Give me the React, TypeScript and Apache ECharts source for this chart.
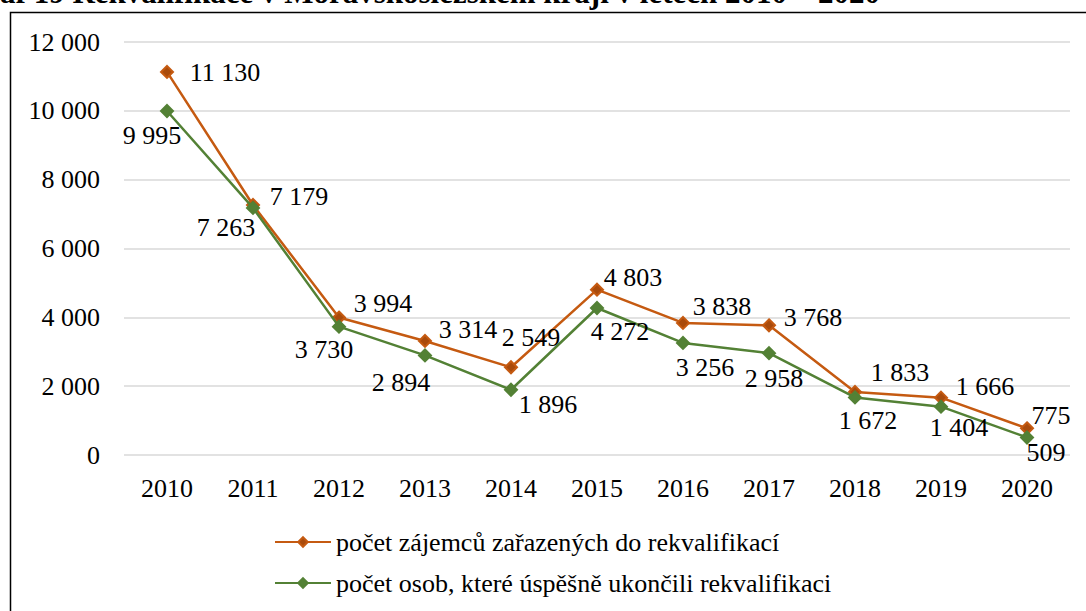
import React, { useEffect, useRef } from "react";
import * as echarts from "echarts";

const years = ["2010", "2011", "2012", "2013", "2014", "2015", "2016", "2017", "2018", "2019", "2020"];
const enrolled = [11130, 7263, 3994, 3314, 2549, 4803, 3838, 3768, 1833, 1666, 775];
const completed = [9995, 7179, 3730, 2894, 1896, 4272, 3256, 2958, 1672, 1404, 509];
const seriesNames = [
  "počet zájemců zařazených do rekvalifikací",
  "počet osob, které úspěšně ukončili rekvalifikaci",
];
const titleText = "Graf 19 Rekvalifikace v Moravskoslezském kraji v letech 2010 – 2020";

// label offsets (style only)
const enrolledLabelOffsets = [
  [58, 1], [-27, 22], [44, -14], [43, -11], [20, -30], [36, -12], [39, -16], [44, -8], [45, -19], [44, -11], [24, -13],
];
const completedLabelOffsets = [
  [-15, 24], [46, -11], [-15, 23], [-24, 27], [37, 15], [23, 24], [22, 25], [5, 25], [13, 23], [18, 21], [19, 15],
];

const ORANGE = "#C55A11";
const GREEN = "#538135";
const FONT = "Times New Roman, Liberation Serif, serif";

const fmt = (v: number) => String(v).replace(/\B(?=(\d{3})+(?!\d))/g, " ");

export default function App() {
  const ref = useRef<HTMLDivElement>(null);
  useEffect(() => {
    if (!ref.current) return;
    const chart = echarts.init(ref.current, null, { renderer: "svg" });
    const mk = (vals: number[], offs: number[][]) =>
      vals.map((v, i) => ({
        value: v,
        label: { offset: offs[i] },
      }));
    const txt = { fontFamily: FONT, fontSize: 26, color: "#000", fontWeight: "normal" };
    const lbl = {
      show: true,
      position: "inside",
      align: "center",
      verticalAlign: "middle",
      ...txt,
      formatter: (p: any) => fmt(p.value),
    };
    chart.setOption({
      animation: false,
      backgroundColor: "#ffffff",
      textStyle: { fontFamily: FONT },
      grid: { left: 124, right: 16, top: 42, bottom: 156 },
      legend: {
        orient: "vertical",
        left: 269,
        top: 524,
        itemWidth: 56,
        itemHeight: 12,
        itemGap: 15,
        textStyle: { ...txt },
        data: seriesNames,
      },
      xAxis: {
        type: "category",
        data: years,
        boundaryGap: true,
        axisLine: { show: false },
        axisTick: { show: false },
        axisLabel: { ...txt, margin: 20 },
      },
      yAxis: {
        type: "value",
        min: 0,
        max: 12000,
        interval: 2000,
        axisLine: { show: false },
        axisTick: { show: false },
        splitLine: { lineStyle: { color: "#D9D9D9", width: 1.5 } },
        axisLabel: { ...txt, margin: 24, formatter: (v: number) => fmt(v) },
      },
      graphic: [
        {
          type: "rect",
          shape: { x: 10.5, y: 12.5, width: 1200, height: 800 },
          style: { fill: "none", stroke: "#000", lineWidth: 1.5 },
          silent: true,
        },
        {
          type: "text",
          x: 880,
          y: 8,
          style: {
            text: titleText,
            fontFamily: FONT,
            fontWeight: "bold",
            fontSize: 31,
            fill: "#000",
            align: "right",
            verticalAlign: "bottom",
          },
          silent: true,
        },
      ],
      series: [
        {
          name: seriesNames[0],
          type: "line",
          data: mk(enrolled, enrolledLabelOffsets),
          symbol: "diamond",
          symbolSize: 12,
          lineStyle: { color: ORANGE, width: 2.5 },
          itemStyle: { color: "#A94B0C", borderColor: ORANGE, borderWidth: 2 },
          label: lbl,
          z: 3,
        },
        {
          name: seriesNames[1],
          type: "line",
          data: mk(completed, completedLabelOffsets),
          symbol: "diamond",
          symbolSize: 12,
          lineStyle: { color: GREEN, width: 2.5 },
          itemStyle: { color: GREEN, borderColor: GREEN, borderWidth: 2 },
          label: lbl,
          z: 4,
        },
      ],
    });
    return () => chart.dispose();
  }, []);
  return (
    <div
      ref={ref}
      style={{ position: "absolute", left: 0, top: 0, width: 1086, height: 611 }}
    />
  );
}
